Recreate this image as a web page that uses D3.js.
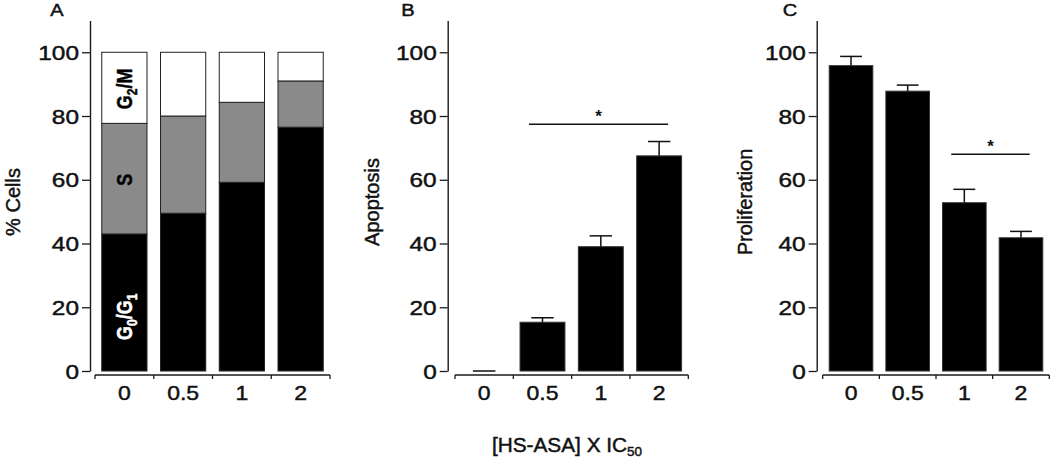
<!DOCTYPE html>
<html>
<head>
<meta charset="utf-8">
<script src="https://cdn.jsdelivr.net/npm/d3@7"></script>
<style>
  html, body { margin: 0; padding: 0; background: #fff; }
  svg { display: block; font-family: "Liberation Sans", Arial, Helvetica, sans-serif; }
  svg text.heavy { stroke: #111; stroke-width: 0.45px; }
  svg text.heavyw { stroke: #fff; stroke-width: 0.45px; }
</style>
</head>
<body>
<svg id="chart" width="1050" height="461"></svg>
<script>
// ---------------- data ----------------
const categories = ["0", "0.5", "1", "2"];
const yTicks = [0, 20, 40, 60, 80, 100];

// Panel A: cell-cycle distribution (%)
const g0g1 = [43.0, 49.5, 59.2, 76.5];
const sPhase = [34.7, 30.5, 25.1, 14.5];
const g2m = [22.3, 20.0, 15.7, 9.0];

// Panel B: apoptosis
const apoptosis = [0, 15.3, 39.0, 67.5];
const apoptosisErr = [0, 1.4, 3.4, 4.5];
const apoptosisSig = { from: "0.5", to: "2", y: 77.4, label: "*" };

// Panel C: proliferation
const proliferation = [95.8, 87.8, 52.8, 41.8];
const proliferationErr = [2.9, 1.9, 4.2, 2.0];
const proliferationSig = { from: "1", to: "2", y: 68.0, label: "*" };

const panelLetters = ["A", "B", "C"];
const yTitles = ["% Cells", "Apoptosis", "Proliferation"];
const xTitle = "[HS-ASA] X IC";
const xTitleSub = "50";

// ---------------- layout ----------------
const svg = d3.select("#chart");
const y = d3.scaleLinear().domain([0, 110]).range([371, 20.4]);
const xAxisY = 375;

const panels = [
  { axisX: 90,    xr: [95, 330],      letterX: 57,  titleX: 20 },
  { axisX: 447.7, xr: [455, 688.3],   letterX: 408, titleX: 379 },
  { axisX: 816.7, xr: [822.7, 1049.3],letterX: 790, titleX: 752 }
];

function drawAxes(p, i) {
  const g = svg.append("g");
  const x = d3.scaleBand().domain(categories).range(p.xr).paddingInner(0.23).paddingOuter(0.115);

  // y axis
  const ya = g.append("g").attr("transform", `translate(${p.axisX},0)`)
    .call(d3.axisLeft(y).tickValues(yTicks).tickSize(8).tickSizeOuter(0).tickPadding(3));
  ya.select(".domain").attr("stroke", "#1a1a1a").attr("stroke-width", 1.4);
  ya.selectAll(".tick line").attr("stroke", "#1a1a1a").attr("stroke-width", 1.3);
  ya.selectAll(".tick text")
    .attr("class", "heavy")
    .attr("x", 0).attr("dy", "0.35em")
    .attr("transform", "translate(-11,0) scale(1.22,1)")
    .attr("font-size", 20).attr("fill", "#111").attr("font-family", "Liberation Sans, Arial, sans-serif");

  // x axis (labels)
  const xa = g.append("g").attr("transform", `translate(0,${xAxisY})`)
    .call(d3.axisBottom(x).tickSize(0).tickSizeOuter(0).tickPadding(11));
  xa.select(".domain").remove();
  xa.selectAll(".tick text")
    .attr("class", "heavy")
    .attr("y", 0).attr("dy", "0.71em")
    .attr("transform", "translate(0,11) scale(1.15,1)")
    .attr("font-size", 20).attr("fill", "#111").attr("font-family", "Liberation Sans, Arial, sans-serif");

  // x axis baseline and boundary ticks
  const step = x.step();
  const bounds = categories.map(c => x(c) - step * x.paddingInner() / 2)
    .concat([x(categories[categories.length - 1]) + x.bandwidth() + step * x.paddingInner() / 2]);
  g.append("line")
    .attr("x1", p.xr[0]).attr("x2", p.xr[1])
    .attr("y1", xAxisY).attr("y2", xAxisY)
    .attr("stroke", "#1a1a1a").attr("stroke-width", 1.4);
  g.selectAll(".bt").data(bounds).enter().append("line")
    .attr("x1", d => d).attr("x2", d => d)
    .attr("y1", xAxisY).attr("y2", xAxisY + 4)
    .attr("stroke", "#1a1a1a").attr("stroke-width", 1.3);

  // panel letter
  g.append("text").attr("class", "heavy")
    .attr("transform", `translate(${p.letterX},16) scale(1.25,1)`)
    .attr("text-anchor", "middle").attr("font-size", 16).attr("fill", "#111")
    .text(panelLetters[i]);

  // y title
  g.append("text").attr("class", "heavy")
    .attr("transform", `translate(${p.titleX},202) rotate(-90)`)
    .attr("text-anchor", "middle").attr("font-size", 20).attr("fill", "#111")
    .text(yTitles[i]);

  return { g, x };
}

// ---------------- Panel A ----------------
{
  const { g, x } = drawAxes(panels[0], 0);
  const series = [
    { key: "g0g1", vals: g0g1, fill: "#000000" },
    { key: "s", vals: sPhase, fill: "#8a8a8a" },
    { key: "g2m", vals: g2m, fill: "#ffffff" }
  ];
  const rows = categories.map((c, i) => ({ cat: c, g0g1: g0g1[i], s: sPhase[i], g2m: g2m[i] }));
  const stack = d3.stack().keys(series.map(s => s.key))(rows);
  stack.forEach((layer, li) => {
    g.selectAll(".seg" + li).data(layer).enter().append("rect")
      .attr("x", d => x(d.data.cat))
      .attr("width", x.bandwidth())
      .attr("y", d => y(d[1]))
      .attr("height", d => y(d[0]) - y(d[1]))
      .attr("fill", series[li].fill)
      .attr("stroke", "#222").attr("stroke-width", 1);
  });

  // phase labels inside first bar
  const c0 = categories[0];
  const cx = x(c0) + x.bandwidth() / 2 + 8;
  const mid = (a, b) => y((a + b) / 2);
  const r0 = rows[0];
  function phaseLabel(yy, color, parts) {
    const t = g.append("text").attr("class", color === "#fff" ? "heavyw" : "heavy")
      .attr("transform", `translate(${cx},${yy}) scale(1.2,1) rotate(-90)`)
      .attr("text-anchor", "middle").attr("font-size", 18).attr("font-weight", "bold")
      .attr("fill", color);
    parts.forEach(pt => {
      const ts = t.append("tspan").text(pt.t);
      if (pt.sub) ts.attr("font-size", 12).attr("dy", 4);
      else if (pt.after) ts.attr("dy", -4);
    });
  }
  phaseLabel(mid(r0.g0g1 + r0.s, 100) + 1, "#000", [{ t: "G" }, { t: "2", sub: true }, { t: "/M", after: true }]);
  phaseLabel(mid(r0.g0g1, r0.g0g1 + r0.s) + 1, "#000", [{ t: "S" }]);
  phaseLabel(y(17), "#fff", [{ t: "G" }, { t: "0", sub: true }, { t: "/G", after: true }, { t: "1", sub: true }]);
}

// ---------------- Panels B and C ----------------
function barPanel(pi, vals, errs, sig) {
  const { g, x } = drawAxes(panels[pi], pi);
  const data = categories.map((c, i) => ({ cat: c, v: vals[i], e: errs[i] }));
  const bw = x.bandwidth();
  g.selectAll(".bar").data(data.filter(d => d.v > 0)).enter().append("rect")
    .attr("x", d => x(d.cat)).attr("width", bw)
    .attr("y", d => y(d.v)).attr("height", d => y(0) - y(d.v))
    .attr("fill", "#000").attr("stroke", "#333").attr("stroke-width", 1);
  // one-sided error bars
  g.selectAll(".stem").data(data).enter().append("line")
    .attr("x1", d => x(d.cat) + bw / 2).attr("x2", d => x(d.cat) + bw / 2)
    .attr("y1", d => y(d.v)).attr("y2", d => y(d.v + d.e))
    .attr("stroke", "#111").attr("stroke-width", 1.5);
  g.selectAll(".cap").data(data).enter().append("line")
    .attr("x1", d => x(d.cat) + bw / 4).attr("x2", d => x(d.cat) + bw * 3 / 4)
    .attr("y1", d => y(d.v + d.e)).attr("y2", d => y(d.v + d.e))
    .attr("stroke", "#111").attr("stroke-width", 1.5);
  // significance line
  const x1 = x(sig.from) + bw / 2 - 0.3 * bw;
  const x2 = x(sig.to) + bw / 2 + 0.2 * bw;
  g.append("line").attr("x1", x1).attr("x2", x2)
    .attr("y1", y(sig.y)).attr("y2", y(sig.y))
    .attr("stroke", "#111").attr("stroke-width", 1.4);
  g.append("text").attr("x", (x1 + x2) / 2).attr("y", y(sig.y) - 2)
    .attr("text-anchor", "middle").attr("font-size", 17).attr("font-weight", "bold")
    .attr("fill", "#111").text(sig.label);
}
barPanel(1, apoptosis, apoptosisErr, apoptosisSig);
barPanel(2, proliferation, proliferationErr, proliferationSig);

// ---------------- shared x title ----------------
const xt = svg.append("text").attr("class", "heavy")
  .attr("transform", "translate(567,452) scale(1.04,1)")
  .attr("text-anchor", "middle").attr("font-size", 20).attr("fill", "#111");
xt.append("tspan").text(xTitle);
xt.append("tspan").text(xTitleSub).attr("font-size", 13).attr("dy", 4);
</script>
</body>
</html>
